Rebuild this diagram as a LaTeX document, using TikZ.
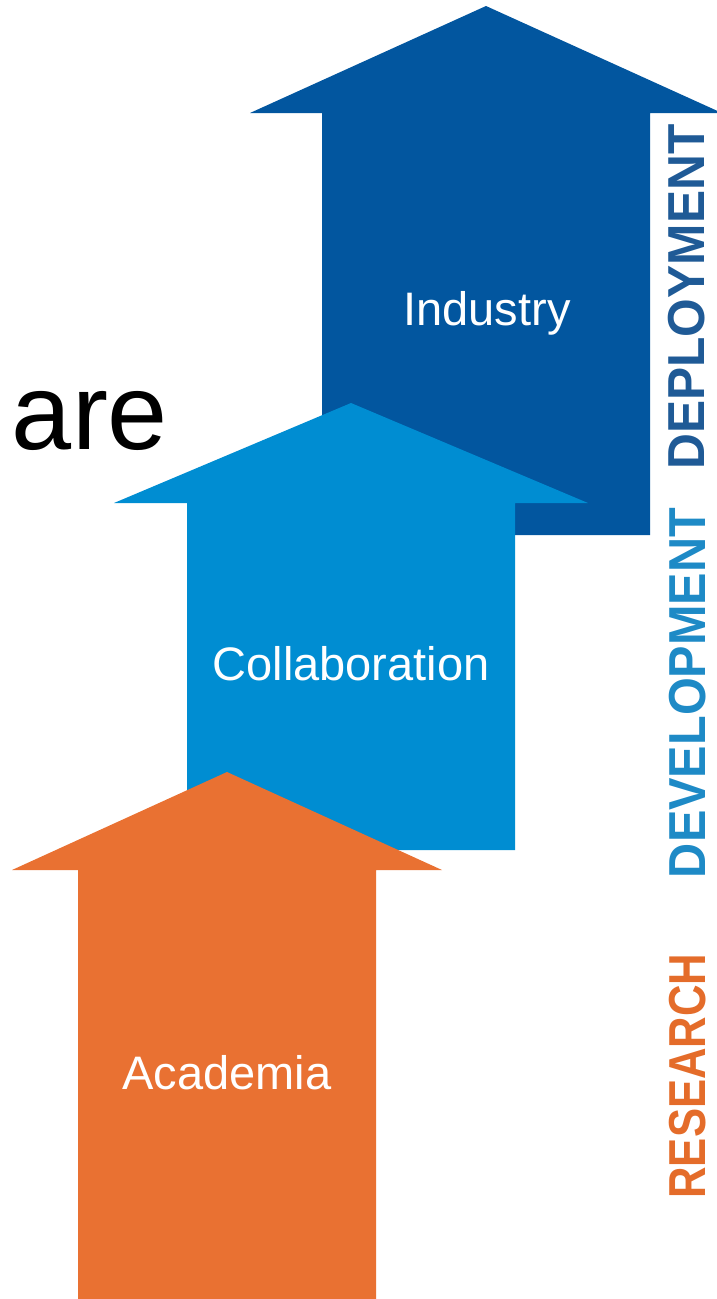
\documentclass[tikz,border=0pt]{standalone}
\usepackage{fontspec}
\setmainfont{Liberation Sans}
\usetikzlibrary{positioning}
\definecolor{indblue}{HTML}{02569F}
\definecolor{colblue}{HTML}{008DD2}
\definecolor{acaorange}{HTML}{E97132}
\definecolor{depblue}{HTML}{1F5A96}
\definecolor{devblue}{HTML}{1E8AC6}
\definecolor{resorange}{HTML}{E46C2A}

\begin{document}
\begin{tikzpicture}[x=1pt,y=-1pt,
    every node/.style={inner sep=0pt},
    arrowlabel/.style={text=white,font=\fontsize{47}{51}\selectfont},
    stagelabel/.style={rotate=90,font=\bfseries\fontsize{52}{56}\selectfont}]
    \useasboundingbox (0,0) rectangle (716,1299);
    % the three arrows, back to front
    \fill[indblue] (486,6) -- (722,113) -- (650,113) -- (650,535)
      -- (322,535) -- (322,113) -- (250,113) -- cycle;
    \fill[colblue] (351,403) -- (588,503) -- (515,503) -- (515,850)
      -- (187,850) -- (187,503) -- (114,503) -- cycle;
    \fill[acaorange] (227,772) -- (442,870) -- (376,870) -- (376,1299)
      -- (78,1299) -- (78,870) -- (12,870) -- cycle;
    \node[arrowlabel] (ind) at (487,313) {Industry};
    \node[arrowlabel] (col) at (351,664) {Collaboration};
    \node[arrowlabel] (aca) at (227,1073) {Academia};
    \node[font=\fontsize{108}{112}\selectfont] (are) at (90,421) {are};
    \node[stagelabel,text=depblue] (dep) at (687,297) {\scalebox{0.955}[1]{DEPLOYMENT}};
    \node[stagelabel,text=devblue] (dev) at (688,693) {\scalebox{0.935}[1]{DEVELOPMENT}};
    \node[stagelabel,text=resorange] (res) at (688,1076) {\scalebox{0.84}[1]{RESEARCH}};
\end{tikzpicture}
\end{document}
